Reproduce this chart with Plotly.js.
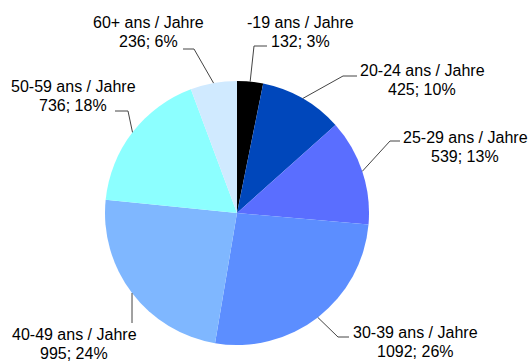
<!DOCTYPE html>
<html>
<head>
<meta charset="utf-8">
<script src="https://cdn.plot.ly/plotly-3.0.1.min.js"></script>
<style>
  html, body { margin: 0; padding: 0; background: #fff; }
  #chart { width: 529px; height: 363px; }
</style>
</head>
<body>
<div id="chart"></div>
<script>
// Age groups and head counts
const categories = ['-19 ans / Jahre', '20-24 ans / Jahre', '25-29 ans / Jahre',
  '30-39 ans / Jahre', '40-49 ans / Jahre', '50-59 ans / Jahre', '60+ ans / Jahre'];
const counts = [132, 425, 539, 1092, 995, 736, 236];
const colors = ['#000000', '#0047bb', '#5a6eff', '#5c8eff', '#7fb7ff', '#8cffff', '#d0eaff'];

// Page geometry (pixels)
const W = 529, H = 363;
const CX = 237, CY = 213, R = 132;

// Label block centres and leader-line elbows / ends, in pixels
const labelCenters = [[300, 32], [422, 80], [465, 147], [415, 342], [74, 344], [73, 96], [148, 32]];
const leaderKnee = [[254, 46], [343, 76], [390, 141], [338, 337], [132, 323], [128, 111], [194, 49]];
const leaderEnd  = [[267, 46], [357, 76], [400, 141], [349, 337], [132, 323], [115, 111], [183, 49]];

const total = counts.reduce((a, b) => a + b, 0);
const px = x => x / W;
const py = y => 1 - y / H;

const annotations = [];
const shapes = [];
let cum = 0;
counts.forEach((v, i) => {
  const mid = (cum + v / 2) / total * 2 * Math.PI;   // clockwise from 12 o'clock
  cum += v;
  const rx = CX + R * Math.sin(mid);
  const ry = CY - R * Math.cos(mid);
  const [kx, ky] = leaderKnee[i];
  const [ex, ey] = leaderEnd[i];
  shapes.push({
    type: 'path', xref: 'paper', yref: 'paper',
    path: `M${px(rx)},${py(ry)} L${px(kx)},${py(ky)} L${px(ex)},${py(ey)}`,
    line: { color: '#444', width: 1 }
  });
  const pct = Math.round(v / total * 100);
  const [lx, ly] = labelCenters[i];
  const lines = [categories[i], `${v}; ${pct}%`];
  lines.forEach((t, j) => {
    annotations.push({
      xref: 'paper', yref: 'paper',
      x: px(lx), y: py(ly + (j === 0 ? -9.5 : 9.5)),
      xanchor: 'center', yanchor: 'middle',
      text: t, showarrow: false,
      font: { family: 'Liberation Sans, Arial, sans-serif', size: 16, color: '#000' }
    });
  });
});

const trace = {
  type: 'pie',
  labels: categories,
  values: counts,
  sort: false,
  direction: 'clockwise',
  rotation: 0,
  textinfo: 'none',
  hoverinfo: 'label+value+percent',
  marker: { colors: colors, line: { width: 0 } },
  domain: { x: [(CX - R) / W, (CX + R) / W], y: [(H - CY - R) / H, (H - CY + R) / H] }
};

const layout = {
  width: W, height: H,
  margin: { l: 0, r: 0, t: 0, b: 0 },
  showlegend: false,
  paper_bgcolor: '#fff',
  annotations: annotations,
  shapes: shapes
};

Plotly.newPlot('chart', [trace], layout, { staticPlot: true, displayModeBar: false });
</script>
</body>
</html>
